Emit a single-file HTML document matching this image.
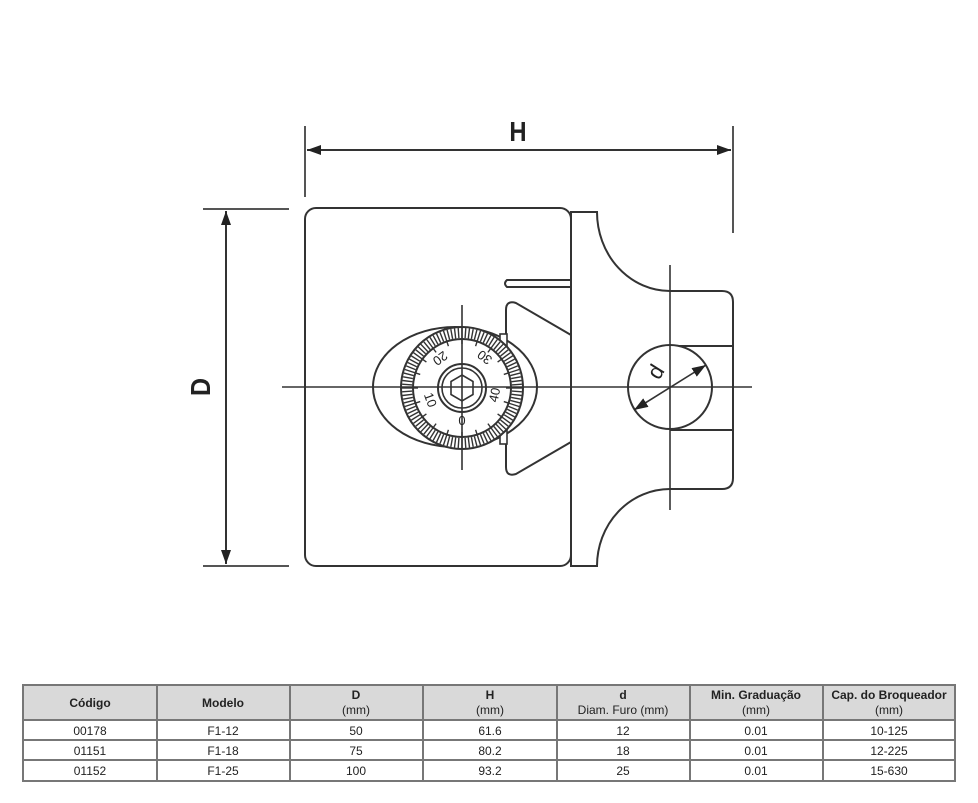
<!DOCTYPE html>
<html><head><meta charset="utf-8"><style>
html,body{margin:0;padding:0;background:#fff;}
svg{display:block;}
</style></head><body>
<svg width="978" height="803" viewBox="0 0 978 803" xmlns="http://www.w3.org/2000/svg" font-family="Liberation Sans, sans-serif">
<defs>
<marker id="ar" viewBox="0 0 14 10" refX="14" refY="5" markerWidth="14" markerHeight="10" orient="auto-start-reverse" markerUnits="userSpaceOnUse"><path d="M0,0 L14,5 L0,10 z" fill="#222"/></marker>
</defs>
<g stroke="#333" stroke-width="2" fill="none">
<line x1="305" y1="126" x2="305" y2="197" stroke="#555"/>
<line x1="733" y1="126" x2="733" y2="233" stroke="#555"/>
<line x1="307" y1="150" x2="731" y2="150" marker-start="url(#ar)" marker-end="url(#ar)"/>
<line x1="203" y1="209" x2="289" y2="209" stroke="#555"/>
<line x1="203" y1="566" x2="289" y2="566" stroke="#555"/>
<line x1="226" y1="211" x2="226" y2="564" marker-start="url(#ar)" marker-end="url(#ar)"/>
<rect x="305" y="208" width="266" height="358" rx="11"/>
<path d="M571,212 L597,212 A73,79 0 0 0 670,291 L722,291 Q733,291 733,302 L733,478 Q733,489 722,489 L670,489 A73,77 0 0 0 597,566 L571,566 Z"/>
<path d="M571,280 L507,280 Q503,283.5 507,287 L571,287"/>
<path d="M571,335 L516,303 Q506,300 506,310 L506,467 Q506,477 516,474 L571,442"/>
<line x1="670" y1="346" x2="733" y2="346"/>
<line x1="670" y1="430" x2="733" y2="430"/>
<ellipse cx="455" cy="387" rx="82" ry="60" fill="#fff"/>
<rect x="500" y="334" width="7" height="110" fill="#fff" stroke-width="1.6"/>
<circle cx="462" cy="388" r="61" fill="#fff"/>
<circle cx="462" cy="388" r="49"/>
<circle cx="462" cy="388" r="24"/>
<circle cx="462" cy="388" r="20" stroke-width="1.6"/>
<polygon points="462,375 473,381.5 473,394.5 462,401 451,394.5 451,381.5" stroke-width="1.6"/>
<circle cx="670" cy="387" r="42" fill="#fff"/>
<line x1="282" y1="387" x2="752" y2="387" stroke-width="1.6"/>
<line x1="462" y1="305" x2="462" y2="470" stroke-width="1.6"/>
<line x1="670" y1="265" x2="670" y2="510" stroke-width="1.6"/>
<line x1="634" y1="410" x2="706" y2="365" marker-start="url(#ar)" marker-end="url(#ar)" stroke-width="1.6"/>
<g id="ticks" stroke-width="1.4"></g>
</g>
<g fill="#222" font-size="13" text-anchor="middle">
<text transform="translate(440,358) rotate(-216)" dy="4">20</text>
<text transform="translate(485,357) rotate(-143)" dy="4">30</text>
<text transform="translate(430,400) rotate(70)" dy="4">10</text>
<text transform="translate(495,395) rotate(-78)" dy="4">40</text>
<text transform="translate(462,421)" dy="4">0</text>
<text transform="translate(656,372) rotate(-58)" dy="7" font-size="22">d</text>
</g>
<text x="518" y="141" font-size="28" font-weight="bold" text-anchor="middle" fill="#222" transform="translate(518,0) scale(0.85,1) translate(-518,0)">H</text>
<text transform="translate(200,387) rotate(-90) scale(0.9,1)" font-size="28" font-weight="bold" text-anchor="middle" dy="10" fill="#222">D</text>
<g font-size="12" fill="#222" text-anchor="middle">
<rect x="23" y="685" width="932" height="35" fill="#d9d9d9"/>
<g stroke="#777" stroke-width="2" fill="none">
<rect x="23" y="685" width="932" height="96"/>
<line x1="23" y1="720" x2="955" y2="720"/>
<line x1="23" y1="740" x2="955" y2="740"/>
<line x1="23" y1="760" x2="955" y2="760"/>
<line x1="157" y1="685" x2="157" y2="781"/>
<line x1="290" y1="685" x2="290" y2="781"/>
<line x1="423" y1="685" x2="423" y2="781"/>
<line x1="557" y1="685" x2="557" y2="781"/>
<line x1="690" y1="685" x2="690" y2="781"/>
<line x1="823" y1="685" x2="823" y2="781"/>
</g>
<g font-weight="bold">
<text x="90" y="707">Código</text>
<text x="223" y="707">Modelo</text>
<text x="356" y="699">D</text><text x="356" y="714" font-weight="normal">(mm)</text>
<text x="490" y="699">H</text><text x="490" y="714" font-weight="normal">(mm)</text>
<text x="623" y="699">d</text><text x="623" y="714" font-weight="normal">Diam. Furo (mm)</text>
<text x="756" y="699">Min. Graduação</text><text x="756" y="714" font-weight="normal">(mm)</text>
<text x="889" y="699">Cap. do Broqueador</text><text x="889" y="714" font-weight="normal">(mm)</text>
</g>
<text x="90" y="735">00178</text><text x="223" y="735">F1-12</text><text x="356" y="735">50</text><text x="490" y="735">61.6</text><text x="623" y="735">12</text><text x="756" y="735">0.01</text><text x="889" y="735">10-125</text>
<text x="90" y="755">01151</text><text x="223" y="755">F1-18</text><text x="356" y="755">75</text><text x="490" y="755">80.2</text><text x="623" y="755">18</text><text x="756" y="755">0.01</text><text x="889" y="755">12-225</text>
<text x="90" y="775">01152</text><text x="223" y="775">F1-25</text><text x="356" y="775">100</text><text x="490" y="775">93.2</text><text x="623" y="775">25</text><text x="756" y="775">0.01</text><text x="889" y="775">15-630</text>
</g>
</svg>
<script>
var g=document.getElementById('ticks'),s='';
for(var i=0;i<100;i++){var a=i*Math.PI*2/100,r1=(i%5==0)?44:50,r2=60;
s+='<line x1="'+(462+r1*Math.cos(a)).toFixed(1)+'" y1="'+(388+r1*Math.sin(a)).toFixed(1)+'" x2="'+(462+r2*Math.cos(a)).toFixed(1)+'" y2="'+(388+r2*Math.sin(a)).toFixed(1)+'"/>';}
g.innerHTML=s;
</script>
</body></html>
